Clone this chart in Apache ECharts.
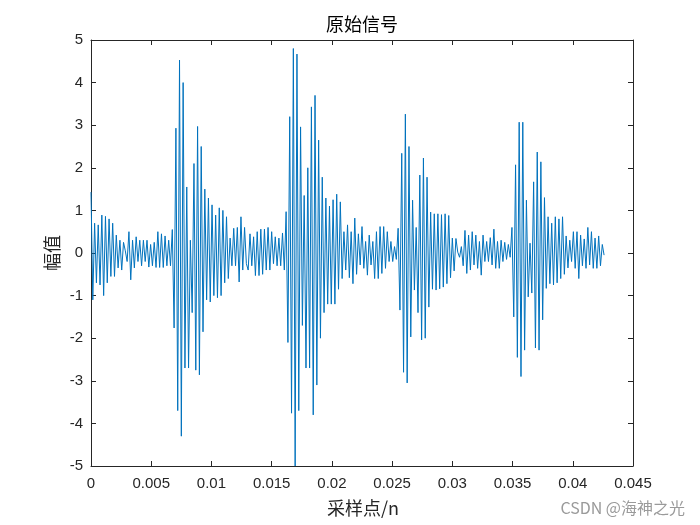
<!DOCTYPE html>
<html>
<head>
<meta charset="utf-8">
<script src="https://cdn.jsdelivr.net/npm/echarts@6/dist/echarts.min.js"></script>
<style>
  html, body { margin: 0; padding: 0; background: #fff; }
  #chart { width: 700px; height: 525px; }
</style>
</head>
<body>
<div id="chart"></div>
<script>
// 采样间隔 (s)
var sampleStep = 0.00015;

// 幅值，按时间顺序读自原图
var lead = [
  1.43, -1.1, 0.7, -0.7, 0.66, -0.75, 0.89, -1.0, 0.86, -0.7,
  0.8, -0.55, 0.7, -0.55, 0.42, -0.35, 0.3, -0.4, 0.25, 0.05,
  -0.2, 0.5, -0.63, 0.3, -0.35, 0.38, -0.2, 0.3, -0.3, 0.3,
  -0.2, 0.3, -0.33, 0.2, -0.3, 0.25, -0.34, 0.5, -0.34, 0.45,
  -0.34, 0.4, -0.3, 0.3, -0.3,
  0.55, -1.76, 2.93, -3.7
];
var burst1 = [
  4.53, -4.3, 4.0, -2.7, 1.55, -2.7, 0.3, -1.4, 2.1, -2.75,
  2.97, -2.86, 2.5, -1.85, 1.5, -1.1, 1.29, -1.15, 1.13, -1.0,
  0.89, -1.05, 1.06, -1.0, 1.0, -0.7, 0.85, -0.6, 0.35, -0.3,
  0.58, -0.3, 0.6, -0.68, 0.85, -0.4, 0.6, -0.25, -0.4, 0.45,
  -0.3, 0.38, -0.53, 0.5, -0.53, 0.56, -0.5, 0.56, -0.4, 0.6,
  -0.4, 0.5, -0.25, 0.38, -0.3, 0.35, -0.3, 0.47, -0.4, 0.97,
  -2.1, 3.2, -3.76
];
var burst2 = [
  4.8, -5.0, 4.67, -3.7, 2.96, -1.7, 1.35, -2.7, 2.0, -2.7,
  3.43, -3.8, 3.7, -3.1, 2.65, -2.0, 1.78, -1.4, 1.29, -1.2,
  1.1, -1.2, 1.25, -1.2, 1.38, -0.85, 1.2, -0.6, 0.5, -0.4,
  0.66, -0.58, 0.5, -0.72, 0.82, -0.5, 0.45, -0.28, 0.62, -0.36,
  0.27, -0.52, 0.42, -0.28, 0.27, -0.6, 0.5, -0.6, 0.62, -0.48,
  0.62, -0.36, 0.5, -0.2, 0.27, -0.2, 0.15, -0.15, 0.58, -1.34,
  2.34, -2.8
];
var burst3 = [
  3.26, -3.05, 2.5, -1.97, 1.24, -0.87, 0.6, -1.4, 1.83, -2.04,
  2.23, -2.0, 1.78, -1.27, 0.96, -0.85, 0.92, -0.87, 0.92, -0.84,
  0.9, -0.8, 0.92, -0.72, 0.88, -0.58, 0.35, -0.42,
  0.34, 0.02, -0.1, 0.15, -0.3, 0.53, -0.48, 0.42, -0.4, 0.5,
  -0.28, 0.42, -0.36, 0.27, -0.52, 0.42, -0.2, 0.27, -0.2, 0.36,
  -0.28, 0.56, -0.36, 0.27, -0.36, 0.3, -0.2, 0.25, -0.15, 0.2,
  -0.1, 0.6, -1.5, 2.07, -2.45
];
var burst4 = [
  3.07, -2.9, 3.07, -2.28, 1.24, -1.03, 0.23, -0.94, 1.67, -2.23,
  2.37, -2.28, 2.14, -1.57, 1.3, -0.83, 0.85, -0.72, 0.7, -0.75,
  0.85, -0.7, 0.8, -0.6, 0.85, -0.5, 0.4, -0.35, 0.3, -0.2,
  0.5, -0.36, 0.5, -0.6, 0.42, -0.3, 0.33, -0.36, 0.6, -0.28,
  0.5, -0.36, 0.35, -0.36, 0.4, -0.3, 0.2, -0.05
];

var xTicks = { min: 0, max: 0.045, step: 0.005 };
var yTicks = { min: -5, max: 5, step: 1 };

var signal = lead.concat(burst1, burst2, burst3, burst4);
var seriesData = signal.map(function (v, i) { return [i * sampleStep, v]; });

var axisColor = '#262626';
var numFont = '"Liberation Sans", Arial, sans-serif';
var cjkFont = '"Noto Sans CJK SC", sans-serif';

function xAxisOf(pos, showLabel) {
  return {
    type: 'value', position: pos,
    min: xTicks.min, max: xTicks.max, interval: xTicks.step,
    axisLine: { show: true, onZero: false, lineStyle: { color: axisColor, width: 1 } },
    axisTick: { show: true, inside: true, length: 5, lineStyle: { color: axisColor } },
    axisLabel: {
      show: showLabel, color: axisColor, fontSize: 15, fontFamily: numFont, margin: 10,
      formatter: function (v) { return String(+v.toFixed(4)); }
    },
    splitLine: { show: false }
  };
}
function yAxisOf(pos, showLabel) {
  return {
    type: 'value', position: pos,
    min: yTicks.min, max: yTicks.max, interval: yTicks.step,
    axisLine: { show: true, onZero: false, lineStyle: { color: axisColor, width: 1 } },
    axisTick: { show: true, inside: true, length: 5, lineStyle: { color: axisColor } },
    axisLabel: { show: showLabel, color: axisColor, fontSize: 15, fontFamily: numFont, margin: 8 },
    splitLine: { show: false }
  };
}

var myChart = echarts.init(document.getElementById('chart'));
myChart.setOption({
  animation: false,
  backgroundColor: '#fff',
  grid: { left: 91, right: 67, top: 40, bottom: 59, containLabel: false },
  xAxis: [xAxisOf('bottom', true), xAxisOf('top', false)],
  yAxis: [yAxisOf('left', true), yAxisOf('right', false)],
  series: [{
    type: 'line',
    xAxisIndex: 0, yAxisIndex: 0,
    data: seriesData,
    showSymbol: false,
    lineStyle: { color: '#0072BD', width: 1 },
    itemStyle: { color: '#0072BD' }
  }],
  graphic: [
    { type: 'text', x: 362, y: 24, style: { text: '原始信号', fill: '#000', font: '18px ' + cjkFont, textAlign: 'center', textVerticalAlign: 'middle' } },
    { type: 'text', x: 363, y: 508, style: { text: '采样点/n', fill: axisColor, font: '18px ' + cjkFont, textAlign: 'center', textVerticalAlign: 'middle' } },
    { type: 'text', x: 52, y: 253, rotation: Math.PI / 2, style: { text: '幅值', fill: axisColor, font: '18px ' + cjkFont, textAlign: 'center', textVerticalAlign: 'middle' } },
    { type: 'text', x: 685, y: 508, style: { text: 'CSDN @海神之光', fill: '#9a9a9a', font: '16px ' + cjkFont, textAlign: 'right', textVerticalAlign: 'middle' } }
  ]
});
</script>
</body>
</html>
